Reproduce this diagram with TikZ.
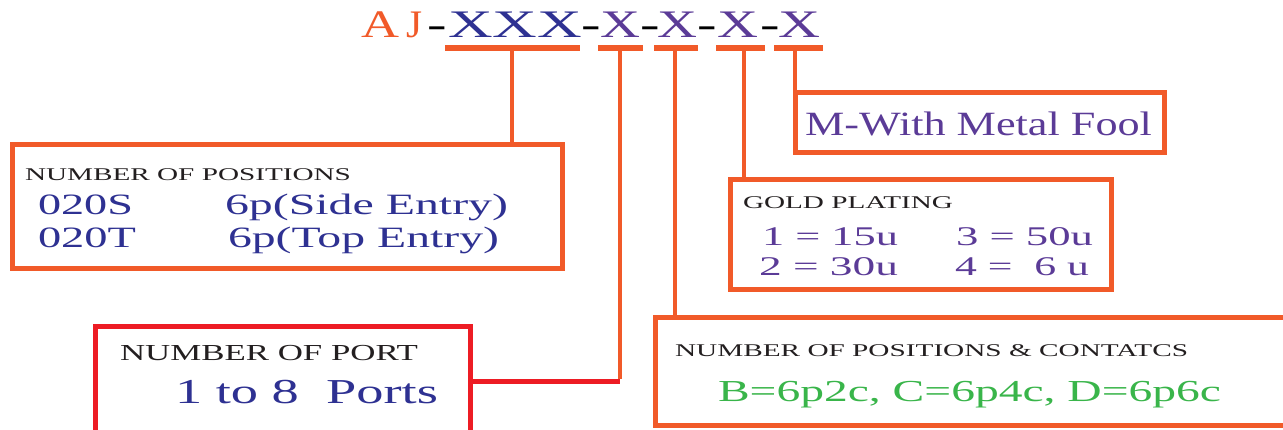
\documentclass[tikz,border=0pt]{standalone}
\usepackage{fontspec}
\usepackage{graphicx}
\setmainfont{Liberation Serif}
\definecolor{borange}{HTML}{F15A29}
\definecolor{bblue}{HTML}{2E3192}
\definecolor{bpurple}{HTML}{5B3B97}
\definecolor{bgreen}{HTML}{39B54A}
\definecolor{bred}{HTML}{ED1C24}
\definecolor{bdark}{HTML}{231F20}
\newcommand\fitw[3]{\resizebox{#1pt}{\height}{\fontsize{#2pt}{#2pt}\selectfont #3}}
\newcommand\hyph{\scalebox{1.5}[1]{\fontsize{39pt}{39pt}\selectfont -}}
\tikzset{
  obox/.style={draw=borange, line width=5pt, rectangle, inner sep=0pt, outer sep=0pt},
  rbox/.style={draw=bred, line width=5pt, rectangle, inner sep=0pt, outer sep=0pt},
  lbl/.style={anchor=base west, inner sep=0pt, outer sep=0pt},
  hy/.style={anchor=base, inner sep=0pt, outer sep=0pt, text=black},
  tickline/.style={draw=borange, line width=4.5pt},
  uline/.style={draw=borange, line width=6pt},
}
\begin{document}
\begin{tikzpicture}[x=1pt,y=-1pt]
\clip (0,0) rectangle (1283,429);
\fill[white] (0,0) rectangle (1283,429);

% boxes
\node[obox, minimum width=549.5pt, minimum height=124pt] (box1) at (287.25,206.5) {};
\node[rbox, minimum width=375pt, minimum height=118.5pt] (box2) at (283,385.75) {};
\node[obox, minimum width=380.5pt, minimum height=110pt] (box3) at (920.75,234) {};
\node[obox, minimum width=368.5pt, minimum height=60pt] (box4) at (979.75,122.5) {};
\node[obox, minimum width=644.5pt, minimum height=108.5pt] (box5) at (977.75,371.25) {};

% tick origins
\coordinate (u1) at (512,48);
\coordinate (u2) at (620,48);
\coordinate (u3) at (675,48);
\coordinate (u4) at (744,48);
\coordinate (u5) at (795,48);
\coordinate (bend) at (620,381.5);

% connectors
\draw[draw=bred, line width=5pt] (box2.east |- bend) -- (bend);
\draw[tickline] (u1) -- (u1 |- box1.north);
\draw[tickline] (u2) -- ([yshift=2.5pt]bend);
\draw[tickline] (u3) -- (u3 |- box5.north);
\draw[tickline] (u4) -- (u4 |- box3.north);
\draw[tickline] (u5) -- (u5 |- box4.north);

% underlines
\coordinate (a1) at (445,48); \coordinate (b1) at (580,48);
\coordinate (a2) at (598,48); \coordinate (b2) at (643,48);
\coordinate (a3) at (654,48); \coordinate (b3) at (698,48);
\coordinate (a4) at (716,48); \coordinate (b4) at (765,48);
\coordinate (a5) at (774,48); \coordinate (b5) at (823,48);
\draw[uline] (a1) -- (b1);
\draw[uline] (a2) -- (b2);
\draw[uline] (a3) -- (b3);
\draw[uline] (a4) -- (b4);
\draw[uline] (a5) -- (b5);

% title
\node[lbl, text=borange] (tA) at (361,37.3) {\fitw{38}{39}{A}};
\node[lbl, text=borange] (tJ) at (406,37.3) {\fitw{16}{39}{J}};
\node[hy] (h1) at (437.5,37.3) {\hyph};
\node[lbl, text=bblue] (tX1) at (448,37.3) {\fitw{134}{39}{XXX}};
\node[hy] (h2) at (591,37.3) {\hyph};
\node[lbl, text=bpurple] (tX2) at (600,37.3) {\fitw{40}{39}{X}};
\node[hy] (h3) at (650,37.3) {\hyph};
\node[lbl, text=bpurple] (tX3) at (657,37.3) {\fitw{40}{39}{X}};
\node[hy] (h4) at (707.5,37.3) {\hyph};
\node[lbl, text=bpurple] (tX4) at (717,37.3) {\fitw{41}{39}{X}};
\node[hy] (h5) at (770,37.3) {\hyph};
\node[lbl, text=bpurple] (tX5) at (778,37.3) {\fitw{42}{39}{X}};

% box1 text
\node[lbl, text=bdark] (l1) at (25,180) {\fitw{326}{17.9}{NUMBER OF POSITIONS}};
\node[lbl, text=bblue] (l1a) at (38,214) {\fitw{95}{29.5}{020S}};
\node[lbl, text=bblue] (l1b) at (225,214) {\fitw{283}{29.5}{6p(Side Entry)}};
\node[lbl, text=bblue] (l1c) at (38,247) {\fitw{98}{29.5}{020T}};
\node[lbl, text=bblue] (l1d) at (228,247) {\fitw{271}{29.5}{6p(Top Entry)}};

% box2 text
\node[lbl, text=bdark] (l2) at (120,360) {\fitw{298}{22.9}{NUMBER OF PORT}};
\node[lbl, text=bblue] (l2a) at (175,403.3) {\fitw{263}{35}{1 to 8 \ Ports}};

% box3 text
\node[lbl, text=bdark] (l3) at (743,208.3) {\fitw{210}{17.9}{GOLD PLATING}};
\node[lbl, text=bpurple] (l3a) at (762,245) {\fitw{136}{27}{1 = 15u}};
\node[lbl, text=bpurple] (l3b) at (956,245) {\fitw{137}{27}{3 = 50u}};
\node[lbl, text=bpurple] (l3c) at (759,275) {\fitw{139}{27}{2 = 30u}};
\node[lbl, text=bpurple] (l3d) at (955,275) {\fitw{134}{27}{4 = \ 6 u}};

% box4 text
\node[lbl, text=bpurple] (l4) at (805,135) {\fitw{347}{34}{M-With Metal Fool}};

% box5 text
\node[lbl, text=bdark] (l5) at (675,356.7) {\fitw{513}{17.9}{NUMBER OF POSITIONS \& CONTATCS}};
\node[lbl, text=bgreen] (l5a) at (718,401.7) {\fitw{503}{30.5}{B=6p2c, C=6p4c, D=6p6c}};
\end{tikzpicture}
\end{document}
